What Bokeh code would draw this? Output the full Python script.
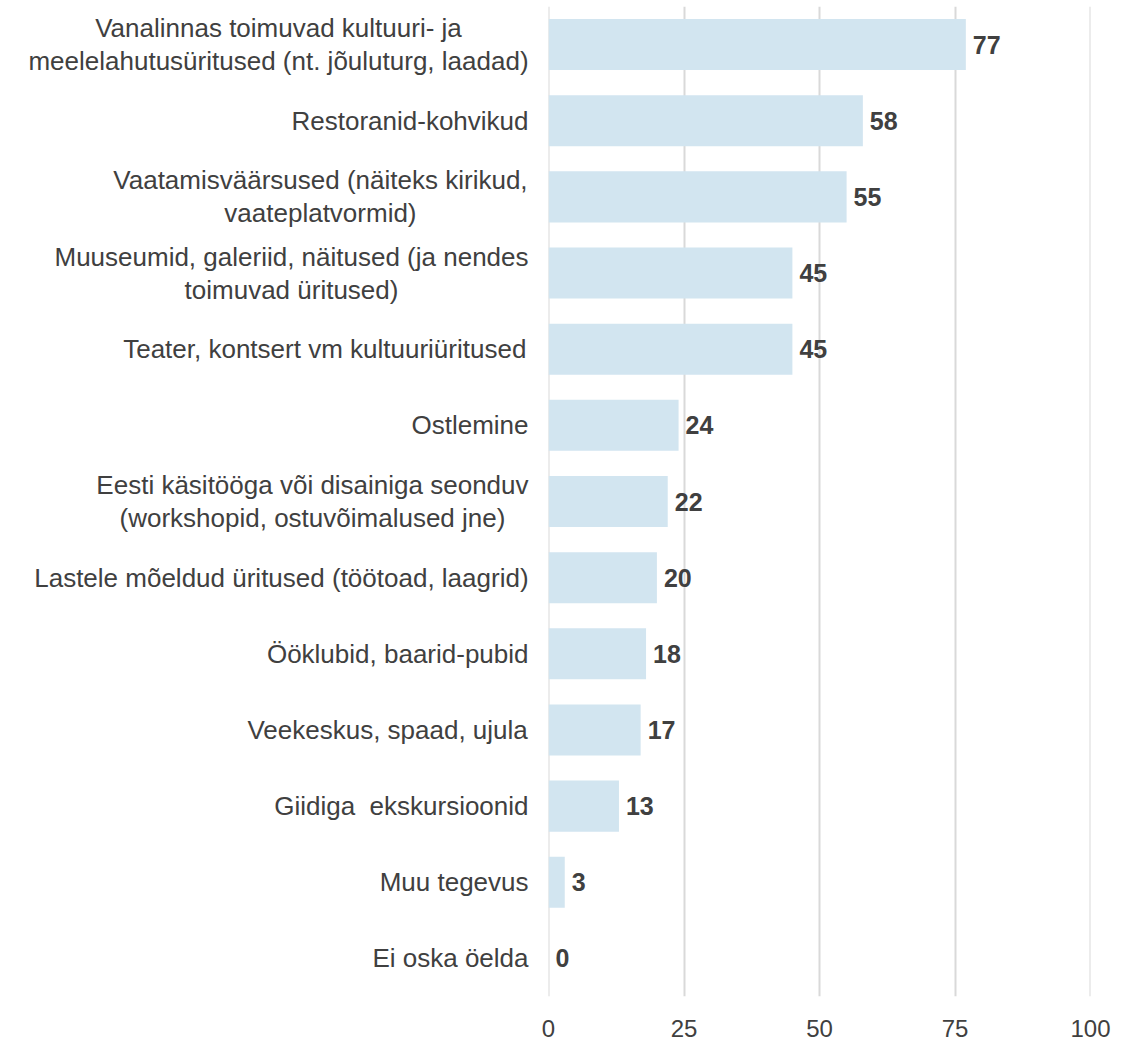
from bokeh.plotting import figure
from bokeh.layouts import row
from bokeh.models import ColumnDataSource, FactorRange, FixedTicker, LabelSet, Span
from bokeh.core.properties import value
from bokeh.embed import file_html
from bokeh.resources import INLINE

categories = [
    "Vanalinnas toimuvad kultuuri- ja\nmeelelahutusüritused (nt. jõuluturg, laadad)",
    "Restoranid-kohvikud",
    "Vaatamisväärsused (näiteks kirikud,\nvaateplatvormid)",
    "Muuseumid, galeriid, näitused (ja nendes\ntoimuvad üritused)",
    "Teater, kontsert vm kultuuriüritused",
    "Ostlemine",
    "Eesti käsitööga või disainiga seonduv\n(workshopid, ostuvõimalused jne)",
    "Lastele mõeldud üritused (töötoad, laagrid)",
    "Ööklubid, baarid-pubid",
    "Veekeskus, spaad, ujula",
    "Giidiga  ekskursioonid",
    "Muu tegevus",
    "Ei oska öelda",
]
values = [77, 58, 55, 45, 45, 24, 22, 20, 18, 17, 13, 3, 0]
x_ticks = [0, 25, 50, 75, 100]

FONT = "Liberation Sans"
TXT = "#404040"
GRID = "#d9d9d9"
CAT_FS = 26.0
LINE_GAP = 33.0
LABEL_RIGHT = 528      # right edge of the category label block
MAIN_BORDER_L = 15
LEFT_W = 548 - MAIN_BORDER_L
TOP, BOTTOM = 6, 46
H = 1042

# Arial / Liberation Sans advance widths (per 1000 em)
_W = {' ': 278, '\u00a0': 278, ',': 278, '.': 278, '(': 333, ')': 333, '-': 333,
      'A': 667, 'B': 667, 'C': 722, 'D': 722, 'E': 667, 'F': 611, 'G': 778, 'H': 722,
      'I': 278, 'J': 500, 'K': 667, 'L': 556, 'M': 833, 'N': 722, 'O': 778, 'P': 667,
      'Q': 778, 'R': 722, 'S': 667, 'T': 611, 'U': 722, 'V': 667, 'W': 944, 'X': 667,
      'Y': 667, 'Z': 611, 'Ö': 778,
      'a': 556, 'b': 556, 'c': 500, 'd': 556, 'e': 556, 'f': 278, 'g': 556, 'h': 556,
      'i': 222, 'j': 222, 'k': 500, 'l': 222, 'm': 833, 'n': 556, 'o': 556, 'p': 556,
      'q': 556, 'r': 333, 's': 500, 't': 278, 'u': 556, 'v': 500, 'w': 722, 'x': 500,
      'y': 500, 'z': 500, 'ä': 556, 'ö': 556, 'ü': 556, 'õ': 556}


def text_width(s):
    return sum(_W.get(ch, 556) for ch in s) * CAT_FS / 1000.0


# category label pieces: single lines, first lines, second lines
groups = {0: dict(x=[], y=[], t=[]), 1: dict(x=[], y=[], t=[]), 2: dict(x=[], y=[], t=[])}
for cat in categories:
    lines = [l.replace("  ", " \u00a0") for l in cat.split("\n")]
    block = max(text_width(l) for l in lines)
    cx = LABEL_RIGHT - block / 2.0
    keys = [0] if len(lines) == 1 else [1, 2]
    for k, l in zip(keys, lines):
        groups[k]["x"].append(cx)
        groups[k]["y"].append(cat)
        groups[k]["t"].append(l)

yr = FactorRange(factors=list(reversed(categories)), range_padding=0)

# ---- left: category labels ----
pl = figure(width=LEFT_W, height=H, y_range=yr, x_range=(0, LEFT_W),
            output_backend="svg", toolbar_location=None,
            x_axis_location=None, y_axis_location=None,
            min_border_left=0, min_border_right=0, min_border_top=TOP, min_border_bottom=BOTTOM)
pl.outline_line_color = None
pl.xgrid.visible = False
pl.ygrid.visible = False
offsets = {0: 0.0, 1: -LINE_GAP / 2.0, 2: LINE_GAP / 2.0}
for k, g in groups.items():
    pl.text(x="x", y="y", text="t", source=ColumnDataSource(g), y_offset=offsets[k],
            text_align="center", text_baseline="middle",
            text_font=value(FONT), text_font_size=f"{CAT_FS}px", text_color=TXT)

# ---- right: bars ----
src = ColumnDataSource(dict(cat=categories, val=values, lab=[str(v) for v in values]))
p = figure(
    width=1135 - LEFT_W, height=H, y_range=yr, x_range=(0, 100),
    output_backend="svg", toolbar_location=None,
    min_border_left=MAIN_BORDER_L, min_border_right=45, min_border_top=TOP, min_border_bottom=BOTTOM,
)
p.outline_line_color = None

for t in (x_ticks[0], x_ticks[-1]):
    p.add_layout(Span(location=t, dimension="height", line_color=GRID, line_width=2,
                      level="underlay"))

p.hbar(y="cat", right="val", left=0, height=0.67, source=src,
       fill_color="#d2e5f0", line_color=None)

p.add_layout(LabelSet(x="val", y="cat", text="lab", source=src, x_offset=7,
                      text_align="left", text_baseline="middle",
                      text_font=value(FONT), text_font_style="bold", text_font_size="25px",
                      text_color=TXT))

p.xaxis.ticker = FixedTicker(ticks=x_ticks)
p.xaxis.axis_line_color = None
p.xaxis.major_tick_line_color = None
p.xaxis.minor_tick_line_color = None
p.xaxis.major_label_text_font = FONT
p.xaxis.major_label_text_font_size = "24px"
p.xaxis.major_label_text_color = TXT
p.xaxis.major_label_standoff = 17

p.yaxis.visible = False

p.xgrid.grid_line_color = GRID
p.xgrid.grid_line_width = 2
p.ygrid.grid_line_color = None

layout = row(pl, p, spacing=0)
open("out.html", "w").write(file_html(layout, INLINE))
